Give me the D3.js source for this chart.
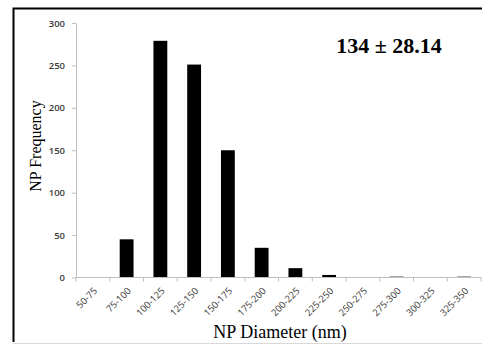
<!DOCTYPE html>
<html>
<head>
<meta charset="utf-8">
<script src="https://cdn.jsdelivr.net/npm/d3@7"></script>
<style>
  body { margin: 0; background: #fff; }
  svg { display: block; }
</style>
</head>
<body>
<div id="chart"></div>
<script>
  const categories = ['50-75', '75-100', '100-125', '125-150', '150-175', '175-200',
    '200-225', '225-250', '250-275', '275-300', '300-325', '325-350'];
  const frequency = [0, 45, 279, 251, 150, 35, 11, 3, 0, 1, 0, 1];
  const yTicks = [0, 50, 100, 150, 200, 250, 300];
  const annotation = '134 \u00b1 28.14';

  const width = 482;
  const height = 346;
  const margin = {top: 23, left: 76, right: 1, bottom: 68.5};

  const svg = d3.select('#chart')
    .append('svg')
    .attr('width', width)
    .attr('height', height);

  // frame
  svg.append('path')
    .attr('d', `M13.5,342 V8.5 H${width}`)
    .attr('fill', 'none')
    .attr('stroke', '#000')
    .attr('stroke-width', 2);
  svg.append('line')
    .attr('x1', 13).attr('x2', width)
    .attr('y1', 343.5).attr('y2', 343.5)
    .attr('stroke', '#d9d9d9');

  const x = d3.scaleBand()
    .domain(categories)
    .range([margin.left, width - margin.right])
    .paddingInner(0.59)
    .paddingOuter(0.295);

  const y = d3.scaleLinear()
    .domain([0, 300])
    .range([height - margin.bottom, margin.top]);

  // bars
  svg.append('g')
    .selectAll('rect')
    .data(categories)
    .join('rect')
    .attr('x', (d) => x(d))
    .attr('width', x.bandwidth())
    .attr('y', (d, i) => y(frequency[i]))
    .attr('height', (d, i) => y(0) - y(frequency[i]))
    .attr('fill', '#000');

  // y axis
  const yAxis = svg.append('g')
    .attr('transform', `translate(${margin.left},0)`)
    .call(d3.axisLeft(y).tickValues(yTicks).tickSize(4).tickPadding(7).tickSizeOuter(0));
  yAxis.select('.domain').attr('stroke', '#bfbfbf');
  yAxis.selectAll('.tick line').attr('stroke', '#bfbfbf');
  yAxis.selectAll('.tick text')
    .attr('fill', '#3a3a3a')
    .style('font', '600 9.5px "Open Sans", sans-serif');

  // x axis, ticks on category boundaries
  const step = x.step();
  const boundaries = d3.range(categories.length + 1).map((i) => margin.left + i * step);
  const xAxisG = svg.append('g')
    .attr('transform', `translate(0,${y(0)})`);
  xAxisG.append('line')
    .attr('x1', margin.left).attr('x2', width - margin.right)
    .attr('stroke', '#bfbfbf');
  xAxisG.selectAll('line.tk')
    .data(boundaries)
    .join('line')
    .attr('class', 'tk')
    .attr('x1', (d) => d).attr('x2', (d) => d)
    .attr('y1', 0).attr('y2', 4)
    .attr('stroke', '#bfbfbf');
  xAxisG.selectAll('text')
    .data(categories)
    .join('text')
    .attr('transform', (d) => `translate(${x(d) + x.bandwidth() / 2 + 5},${14}) rotate(-45)`)
    .attr('text-anchor', 'end')
    .attr('fill', '#3a3a3a')
    .style('font', '9.5px "Open Sans", sans-serif')
    .text((d) => d);

  // axis titles
  svg.append('text')
    .attr('x', 280)
    .attr('y', 338)
    .attr('text-anchor', 'middle')
    .style('font', '18px "Liberation Serif", serif')
    .text('NP Diameter (nm)');

  svg.append('text')
    .attr('transform', `translate(41,146) rotate(-90)`)
    .attr('text-anchor', 'middle')
    .style('font', '16px "Liberation Serif", serif')
    .text('NP Frequency');

  svg.append('text')
    .attr('x', 389)
    .attr('y', 53)
    .attr('text-anchor', 'middle')
    .style('font', 'bold 22px "Liberation Serif", serif')
    .text(annotation);
</script>
</body>
</html>
